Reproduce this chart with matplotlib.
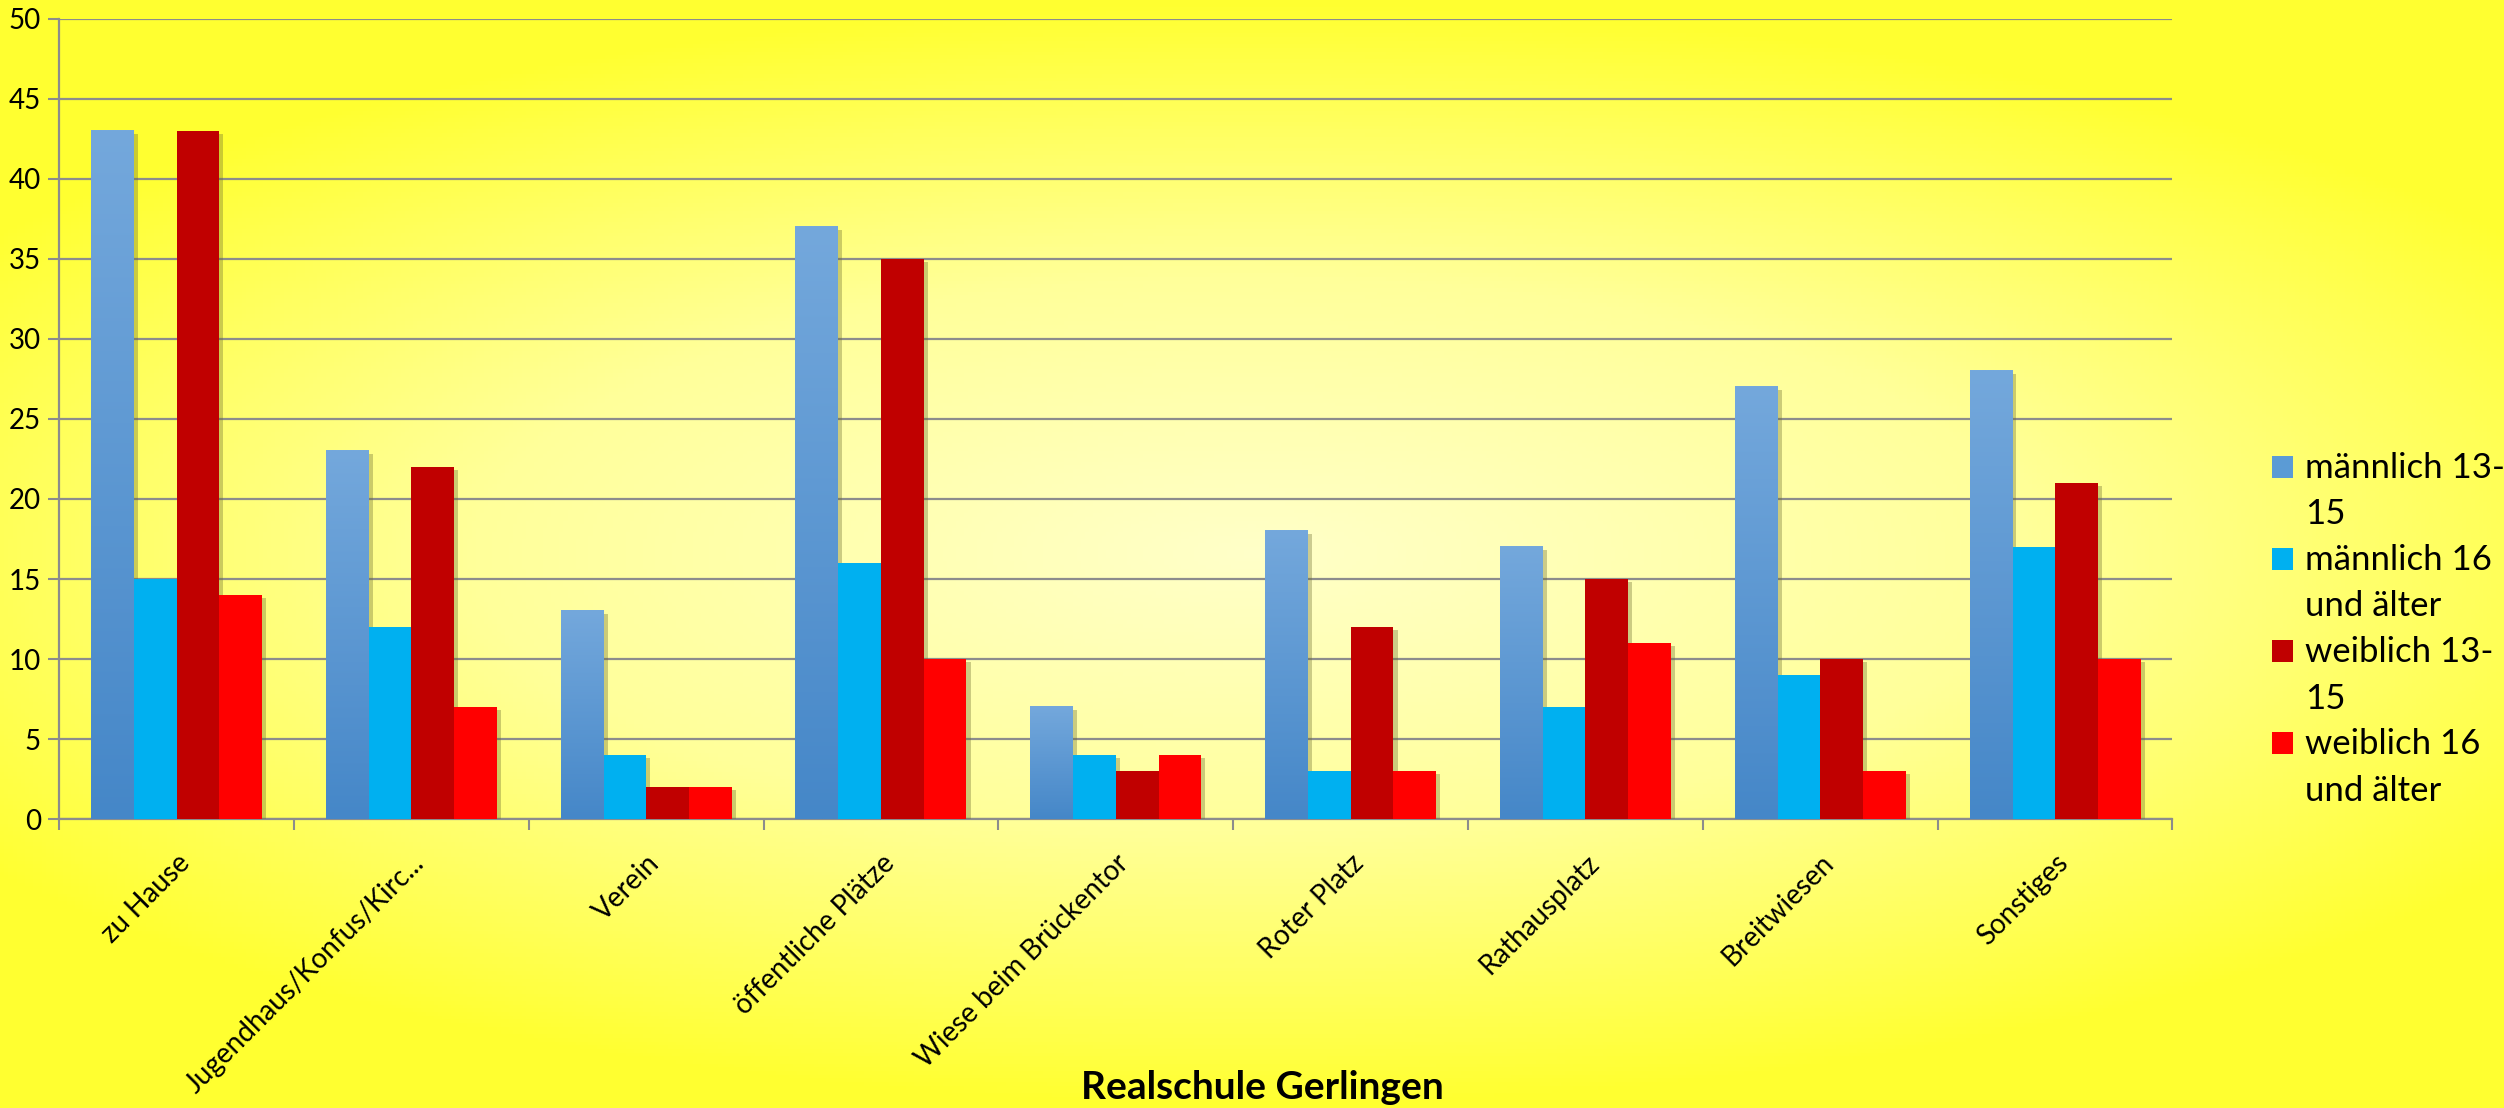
import numpy as np
import matplotlib
matplotlib.use("Agg")
from matplotlib import pyplot as plt
from matplotlib import patheffects as pe
from matplotlib import transforms
from matplotlib.colors import LinearSegmentedColormap
from matplotlib.container import BarContainer
from matplotlib.legend_handler import HandlerPatch
from matplotlib.patches import Rectangle

# Data
categories = ["zu Hause", "Jugendhaus/Konfus/Kirc...", "Verein", "öffentliche Plätze",
              "Wiese beim Brückentor", "Roter Platz", "Rathausplatz", "Breitwiesen", "Sonstiges"]
series_names = ["männlich 13-\n15", "männlich 16\nund älter", "weiblich 13-\n15", "weiblich 16\nund älter"]
maennlich_13_15 = [43, 23, 13, 37, 7, 18, 17, 27, 28]
maennlich_16 = [15, 12, 4, 16, 4, 3, 7, 9, 17]
weiblich_13_15 = [43, 22, 2, 35, 3, 12, 15, 10, 21]
weiblich_16 = [14, 7, 2, 10, 4, 3, 11, 3, 10]
series_colors = ["#5B9BD5", "#00B0F0", "#C00000", "#FF0000"]

plt.rcParams['font.family'] = ['Lato', 'DejaVu Sans']

fig = plt.figure(figsize=(25.04, 11.08), dpi=100)

# radial yellow background
bg = fig.add_axes([0, 0, 1, 1], zorder=-10)
yy, xx = np.mgrid[0:1:300j, 0:1:600j]
r = np.sqrt(((xx - 0.5) / 0.62) ** 2 + ((yy - 0.5) / 0.5) ** 2)
r = np.clip(r, 0, 1)
bg_cmap = LinearSegmentedColormap.from_list("bg", ["#FFFFC8", "#FFFF9A", "#FFFF30"])
bg.imshow(r, cmap=bg_cmap, aspect="auto", extent=[0, 1, 0, 1], origin="lower")
bg.axis("off")

ax = fig.add_axes([0.0236, 0.2608, 0.844, 0.7221])
ax.set_facecolor("none")

x = np.arange(len(categories))
w = 0.182
all_series = [maennlich_13_15, maennlich_16, weiblich_13_15, weiblich_16]
shadow = [pe.SimplePatchShadow(offset=(3, -2), shadow_rgbFace="#6b6b30", alpha=0.35), pe.Normal()]
bars = []
for i, vals in enumerate(all_series):
    b = ax.bar(x + (i - 1.5) * w, vals, w, color=series_colors[i], zorder=3, label=series_names[i])
    for p in b:
        p.set_path_effects(shadow)
    bars.append(b)

# gradient fill for first series
grad_cmap = LinearSegmentedColormap.from_list("blu", ["#4587C8", "#74A8DC"])
grad = np.linspace(0, 1, 256).reshape(-1, 1)
for p in bars[0]:
    x0, y0 = p.get_x(), p.get_y()
    ax.imshow(grad, cmap=grad_cmap, aspect="auto", origin="lower",
              extent=[x0, x0 + p.get_width(), y0, y0 + p.get_height()], zorder=4)

ax.set_xlim(-0.5, len(categories) - 0.5)
ax.set_ylim(0, 50)
ax.set_yticks(range(0, 51, 5))
ax.yaxis.grid(True, color="#8C8C8C", linewidth=1.6, zorder=0)
ax.set_axisbelow(True)

ax.set_xticks(x)
ax.set_xticklabels(categories, rotation=45, ha="right", rotation_mode="anchor", fontsize=20)
# shift category labels a bit to the right
shift = transforms.ScaledTranslation(6 / 100, 0, fig.dpi_scale_trans)
for lbl in ax.get_xticklabels():
    lbl.set_transform(lbl.get_transform() + shift)
ax.set_xticks(np.arange(-0.5, len(categories)), minor=True)
ax.tick_params(axis="x", which="major", length=0, pad=22)
ax.tick_params(axis="x", which="minor", length=8, color="#8C8C8C", width=1.5)
ax.tick_params(axis="y", length=8, color="#8C8C8C", width=1.5, labelsize=20, pad=5)

for s in ["top", "right"]:
    ax.spines[s].set_visible(False)
for s in ["left", "bottom"]:
    ax.spines[s].set_color("#8C8C8C")
    ax.spines[s].set_linewidth(1.6)


# legend square sits next to the first line of each label
def top_square(legend, orig_handle, xdescent, ydescent, width, height, fontsize):
    return Rectangle((-xdescent, -ydescent + 0.72 * fontsize), width, height)


def first_child(legend_handle, orig_handle):
    legend_handle.update_from(orig_handle.patches[0])


leg = fig.legend(loc="center left", bbox_to_anchor=(0.895, 0.432), frameon=False, fontsize=25,
                 handlelength=0.6, handleheight=0.6, handletextpad=0.35, labelspacing=0.4,
                 handler_map={BarContainer: HandlerPatch(patch_func=top_square, update_func=first_child)})
for t in leg.get_texts():
    t.set_linespacing(1.55)
for h in leg.legend_handles:
    h.set_path_effects([])

fig.text(0.504, 0.003, "Realschule Gerlingen", ha="center", va="bottom", fontsize=28, fontweight="bold")

fig.savefig("out.png", dpi=100)
